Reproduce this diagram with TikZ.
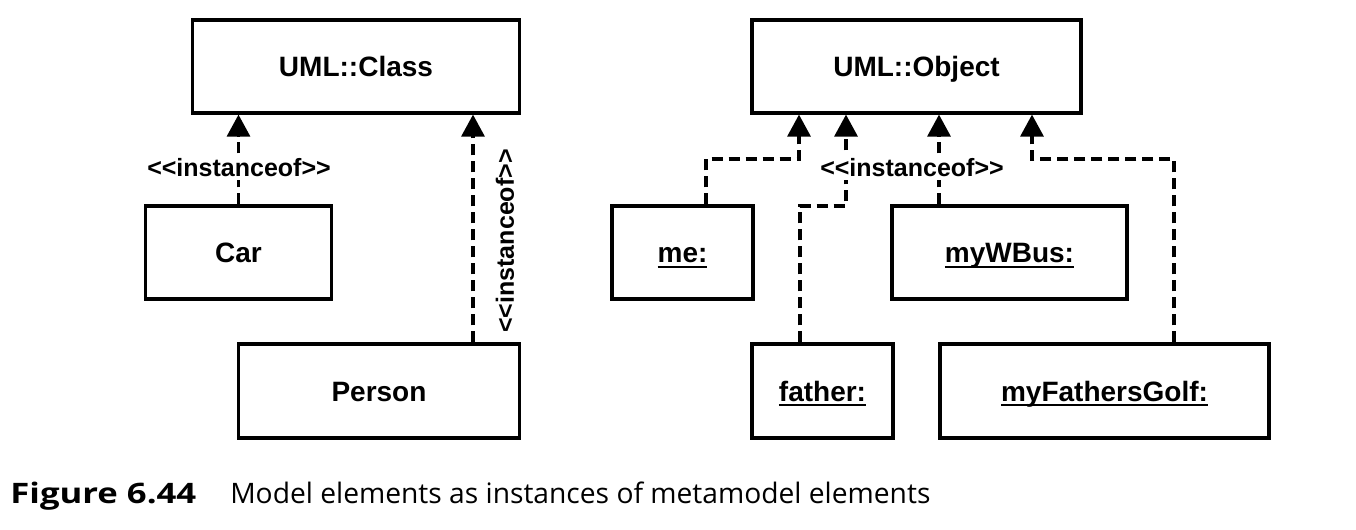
\documentclass[tikz,border=0pt]{standalone}
\usepackage{fontspec}
\setmainfont{Liberation Sans}
\newfontfamily\capfont{Open Sans}
\newfontfamily\capboldfont{Open Sans}[FakeStretch=1.23]
\usetikzlibrary{arrows.meta}
\tikzset{
  box/.style={draw, line width=1.6pt, rectangle, minimum height=46.5pt, inner sep=0pt,
    text height=10pt, text depth=0pt,
    font=\fontsize{14}{16}\selectfont\bfseries},
  dep/.style={draw, line width=1.6pt, dash pattern=on 5.5pt off 3pt,
    -{Triangle[width=11.5pt,length=11pt]}},
  lbl/.style={fill=white, inner sep=1.5pt, font=\fontsize{12.5}{14}\selectfont\bfseries},
}
\newcommand{\ulbox}[1]{\setbox0\hbox{#1}\rlap{\raisebox{-2.6pt}{\rule{\wd0}{1pt}}}\box0}
\begin{document}
\begin{tikzpicture}[x=0.5pt,y=-0.5pt]
\useasboundingbox (0,0) rectangle (1356,530);
% left part
\node[box, minimum width=163.5pt] (cls) at (356,66.5) {UML::Class};
\node[box, minimum width=93pt] (car) at (238.5,252.5) {Car};
\node[box, minimum width=140.5pt, minimum height=47pt] (person) at (379,391) {Person};
\coordinate (pxa) at (473,0);
\draw[dep] (car.north) -- (car.north |- cls.south);
\draw[dep] (person.north -| pxa) -- (cls.south -| pxa);
\node[lbl] (l1) at (239,168) {<{}<instanceof>{}>};
\node[lbl, rotate=90, fill=none] (l2) at (505,241) {<{}<instanceof>{}>};
% right part
\node[box, minimum width=164.5pt] (objc) at (916.5,66.5) {UML::Object};
\node[box, minimum width=70.5pt] (me) at (682.5,252.5) {\ulbox{me:}};
\node[box, minimum width=117.5pt] (bus) at (1009.5,252.5) {\ulbox{myWBus:}};
\node[box, minimum width=70.5pt, minimum height=47pt] (father) at (822.5,391) {\ulbox{father:}};
\node[box, minimum width=164.5pt, minimum height=47pt] (golf) at (1104.5,391) {\ulbox{myFathersGolf:}};
\coordinate (xme) at (706,159);
\coordinate (xa1) at (799,159);
\coordinate (xfa) at (800,206);
\coordinate (xa2) at (846,206);
\coordinate (xa3) at (939,0);
\coordinate (xgo) at (1174,159);
\coordinate (xa4) at (1032,159);
\draw[dep] (me.north -| xme) -- (xme) -- (xa1) -- (objc.south -| xa1);
\draw[dep] (father.north -| xfa) -- (xfa) -- (xa2) -- (objc.south -| xa2);
\draw[dep] (bus.north -| xa3) -- (objc.south -| xa3);
\draw[dep] (golf.north -| xgo) -- (xgo) -- (xa4) -- (objc.south -| xa4);
\node[lbl] (l3) at (912,168) {<{}<instanceof>{}>};
% caption
\node[anchor=base west, inner sep=0pt, font=\capfont\fontsize{14.1}{16}\selectfont] (cap) at (10,503)
  {{\capboldfont\bfseries Figure 6.44}\hspace{17pt}Model elements as instances of metamodel elements};
\end{tikzpicture}
\end{document}
